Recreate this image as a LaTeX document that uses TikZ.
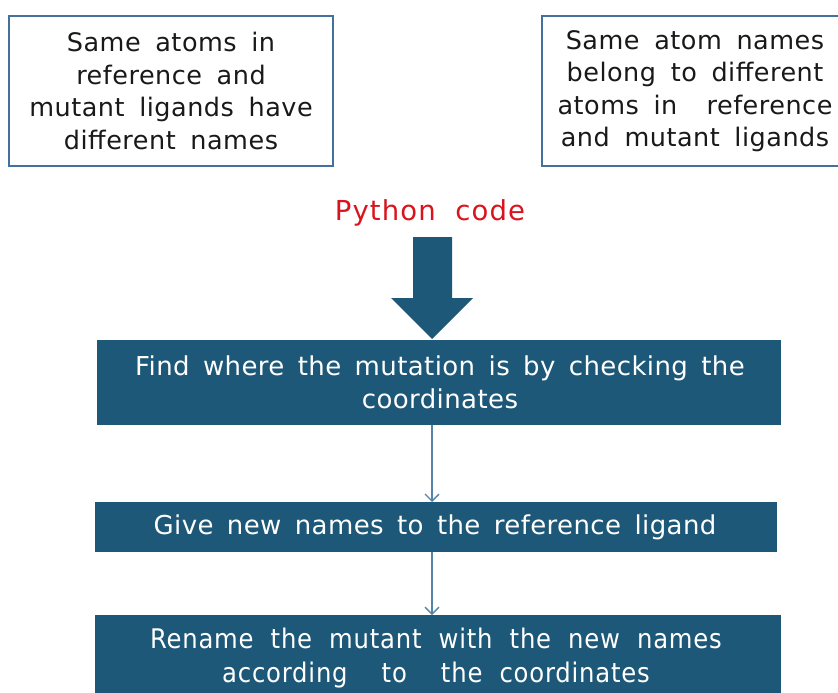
\documentclass[tikz,border=0pt]{standalone}
\usepackage{fontspec}
\setmainfont{DejaVu Sans}
\newfontfamily\notefont{DejaVu Sans}[LetterSpace=2,WordSpace=1.7]
\newfontfamily\stepfont{DejaVu Sans}[LetterSpace=1.5,WordSpace=1.55]
\newfontfamily\lastfont{DejaVu Sans Condensed}[LetterSpace=3,WordSpace=2]
\newfontfamily\labelfont{DejaVu Sans}[LetterSpace=4,WordSpace=2]
\usetikzlibrary{arrows.meta,calc}
\definecolor{boxblue}{HTML}{1E5878}
\definecolor{outlineblue}{HTML}{41719C}
\definecolor{linkblue}{HTML}{5584AA}
\definecolor{codered}{HTML}{D9141E}
\tikzset{
  notebox/.style={draw=outlineblue, line width=1.6pt, fill=white},
  notetext/.style={align=center, text=black!90, font=\notefont\fontsize{25.5}{32.5}\selectfont},
  stepbox/.style={fill=boxblue, draw=none},
  steptext/.style={align=center, text=white, font=\stepfont\fontsize{26}{33}\selectfont},
  link/.style={draw=linkblue, line width=1.3pt, -{Straight Barb[length=7pt,width=14pt,line width=1.3pt]}},
}
\begin{document}
\begin{tikzpicture}[x=1pt,y=-1pt]
  \clip (0,0) rectangle (838,693);
  \fill[white] (0,0) rectangle (838,693);

  % two observations at the top
  \draw[notebox] (9,16) rectangle (333,166);
  \node[notetext] (obsL) at (171,91) {Same atoms in\\reference and\\mutant ligands have\\different names};
  \draw[notebox] (542,16) rectangle (852,166);
  \node[notetext] (obsR) at (695,91) {Same atom names\\belong to different\\atoms in\ \ reference\\and mutant ligands};

  % script label and the thick arrow
  \node[text=codered, font=\labelfont\fontsize{27.5}{32}\selectfont] (py) at (430,213) {Python code};

  % processing steps
  \fill[stepbox] (97,340) rectangle (781,425);
  \node[steptext] (s1) at (440,382) {Find where the mutation is by checking the\\coordinates};
  \fill[stepbox] (95,502) rectangle (777,552);
  \node[coordinate] (s2n) at (432,502) {};
  \node[steptext] (s2) at (435,527) {Give new names to the reference ligand};
  \fill[stepbox] (95,615) rectangle (781,700);
  \node[coordinate] (s3n) at (432,615) {};
  \node[steptext, font=\lastfont\fontsize{27}{34}\selectfont] (s3) at (436,658) {Rename the mutant with the new names\\according\ \ to\ \ the coordinates};

  \coordinate (s1s) at (432,425);
  \coordinate (s2s) at (432,552);

  \fill[boxblue] (413,237) -- (452,237) -- (452,298) -- (473,298)
     -- (432,339) -- (391,298) -- (413,298) -- cycle;

  \draw[link] (s1s) -- (s2n);
  \draw[link] (s2s) -- (s3n);
\end{tikzpicture}
\end{document}
